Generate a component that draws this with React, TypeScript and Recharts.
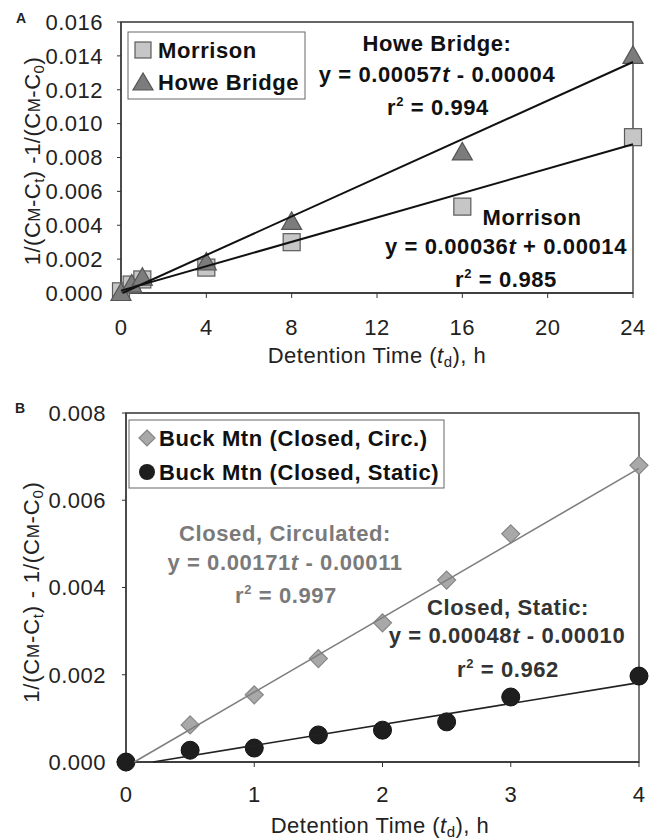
import React from 'react';
import { ComposedChart, Scatter, XAxis, YAxis, ReferenceArea, Customized } from 'recharts';

const FONT = 'Liberation Sans, Arial, Helvetica, sans-serif';

// ---------- Panel A data ----------
const timesA = [0, 0.5, 1, 4, 8, 16, 24];
const morrisonValues = [0.0001, 0.0005, 0.0008, 0.0015, 0.003, 0.0051, 0.0092];
const howeValues = [0.0, 0.0005, 0.0009, 0.0018, 0.0042, 0.0083, 0.014];
const morrisonFitTimes = [0, 24];
const morrisonFitValues = [0.00014, 0.00878];
const howeFitTimes = [0.07, 24];
const howeFitValues = [0.0, 0.01364];
const ticksXA = [0, 4, 8, 12, 16, 20, 24];
const ticksYA = [0, 0.002, 0.004, 0.006, 0.008, 0.01, 0.012, 0.014, 0.016];

// ---------- Panel B data ----------
const timesB = [0, 0.5, 1, 1.5, 2, 2.5, 3, 4];
const circValues = [0.0, 0.00085, 0.00154, 0.00237, 0.00319, 0.00417, 0.00523, 0.0068];
const staticValues = [0.0, 0.00027, 0.00032, 0.00062, 0.00073, 0.00092, 0.00149, 0.00197];
const circFitTimes = [0.064, 4];
const circFitValues = [0.0, 0.00673];
const staticFitTimes = [0.21, 4];
const staticFitValues = [0.0, 0.00182];
const ticksXB = [0, 1, 2, 3, 4];
const ticksYB = [0, 0.002, 0.004, 0.006, 0.008];

const zip = (t: number[], y: number[]) => t.map((v, i) => ({ t: v, y: y[i] }));

const morrisonData = zip(timesA, morrisonValues);
const howeData = zip(timesA, howeValues);
const morrisonFit = zip(morrisonFitTimes, morrisonFitValues);
const howeFit = zip(howeFitTimes, howeFitValues);
const circData = zip(timesB, circValues);
const staticData = zip(timesB, staticValues);
const circFit = zip(circFitTimes, circFitValues);
const staticFit = zip(staticFitTimes, staticFitValues);

// ---------- markers ----------
const Square = (p: any) => (
  <rect x={p.cx - 8.5} y={p.cy - 8.5} width={17} height={17} fill="#c6c6c6" stroke="#5a5a5a" strokeWidth={1.2} />
);
const Triangle = (p: any) => (
  <polygon
    points={`${p.cx},${p.cy - 10} ${p.cx - 10},${p.cy + 7.5} ${p.cx + 10},${p.cy + 7.5}`}
    fill="#7c7c7c"
    stroke="#555"
    strokeWidth={1.2}
  />
);
const Diamond = (p: any) => (
  <polygon
    points={`${p.cx},${p.cy - 9} ${p.cx + 9},${p.cy} ${p.cx},${p.cy + 9} ${p.cx - 9},${p.cy}`}
    fill="#a8a8a8"
    stroke="#858585"
    strokeWidth={1.2}
  />
);
const Dot = (p: any) => <circle cx={p.cx} cy={p.cy} r={9} fill="#1e1e1e" stroke="#111" strokeWidth={1} />;
const NoShape = () => <g />;

// ---------- ticks ----------
const YTick = (p: any) => (
  <text x={p.x} y={p.y} dy="0.355em" textAnchor="end" fontSize={22} fontFamily={FONT} fill="#222" letterSpacing={0.5}>
    {Number(p.payload.value).toFixed(3)}
  </text>
);
const XTick = (p: any) => (
  <text x={p.x} y={p.y} dy="0.71em" textAnchor="middle" fontSize={22} fontFamily={FONT} fill="#222" letterSpacing={0.5}>
    {String(p.payload.value)}
  </text>
);

// ---------- text helpers ----------
const T = ({ x, y, children, size = 22, weight = 'bold', fill = '#111', anchor = 'middle', ls = 0.6 }: any) => (
  <text x={x} y={y} fontSize={size} fontWeight={weight} fill={fill} textAnchor={anchor} fontFamily={FONT} letterSpacing={ls}>
    {children}
  </text>
);

const Eq = ({ a, b }: any) => (
  <>
    <tspan>{'y = ' + a}</tspan>
    <tspan fontStyle="italic">t</tspan>
    <tspan>{' ' + b}</tspan>
  </>
);

const R2 = ({ v }: any) => (
  <>
    <tspan>r</tspan>
    <tspan dy={-9} fontSize={13}>2</tspan>
    <tspan dy={9}>{' = ' + v}</tspan>
  </>
);

const XTitle = ({ x, y }: any) => (
  <text x={x} y={y} textAnchor="middle" fontSize={22} fontFamily={FONT} fill="#222" letterSpacing={0.5}>
    <tspan>Detention Time (</tspan>
    <tspan fontStyle="italic">t</tspan>
    <tspan fontSize={15} dy={4}>d</tspan>
    <tspan dy={-4}>), h</tspan>
  </text>
);

const YTitle = ({ cx, cy, size, sep, ls }: any) => {
  const small = Math.round(size * 0.75);
  const sub = Math.round(size * 0.68);
  return (
    <text
      transform={`translate(${cx},${cy}) rotate(-90)`}
      textAnchor="middle"
      dy="0.35em"
      fontSize={size}
      fontFamily={FONT}
      fill="#222"
      letterSpacing={ls}
    >
      <tspan>1/(C</tspan>
      <tspan fontSize={small}>M</tspan>
      <tspan>-C</tspan>
      <tspan fontSize={sub} dy={4}>t</tspan>
      <tspan dy={-4}>{')' + sep + '1/(C'}</tspan>
      <tspan fontSize={small}>M</tspan>
      <tspan>-C</tspan>
      <tspan fontSize={sub} dy={4}>0</tspan>
      <tspan dy={-4}>)</tspan>
    </text>
  );
};

// ---------- overlays (chart-local coordinates) ----------
const OverlayA = () => (
  <g>
    <text x={21} y={23} textAnchor="middle" fontSize={14} fontWeight="bold" fontFamily={FONT} fill="#222">A</text>
    <YTitle cx={32} cy={161} size={22} sep=" -" ls={0.5} />
    <XTitle x={377} y={363} />
    {/* legend */}
    <rect x={128} y={32} width={177} height={67} fill="#fff" stroke="#666" strokeWidth={1} />
    <rect x={135} y={42} width={16} height={16} fill="#c6c6c6" stroke="#5a5a5a" strokeWidth={1.2} />
    <polygon points="143,73 133,90 153,90" fill="#7c7c7c" stroke="#555" strokeWidth={1.2} />
    <T x={158} y={58} anchor="start">Morrison</T>
    <T x={158} y={90} anchor="start">Howe Bridge</T>
    {/* annotations */}
    <T x={437} y={51}>Howe Bridge:</T>
    <T x={437} y={82}><Eq a="0.00057" b="- 0.00004" /></T>
    <T x={438} y={115}><R2 v="0.994" /></T>
    <T x={532} y={225}>Morrison</T>
    <T x={506} y={254}><Eq a="0.00036" b="+ 0.00014" /></T>
    <T x={506} y={287}><R2 v="0.985" /></T>
  </g>
);

const OFF_B = 380;
const OverlayB = () => (
  <g>
    <text x={20} y={413 - OFF_B} textAnchor="middle" fontSize={14} fontWeight="bold" fontFamily={FONT} fill="#222">B</text>
    <YTitle cx={31} cy={592 - OFF_B} size={22} sep=" - " ls={0.8} />
    <XTitle x={380} y={833 - OFF_B} />
    {/* legend */}
    <rect x={129} y={420 - OFF_B} width={315} height={68} fill="#fff" stroke="#666" strokeWidth={1} />
    <polygon
      points={`147,${430 - OFF_B} 155,${438 - OFF_B} 147,${446 - OFF_B} 139,${438 - OFF_B}`}
      fill="#a8a8a8"
      stroke="#858585"
      strokeWidth={1.2}
    />
    <circle cx={147} cy={472 - OFF_B} r={8} fill="#1e1e1e" />
    <T x={159} y={446 - OFF_B} anchor="start">Buck Mtn (Closed, Circ.)</T>
    <T x={159} y={480 - OFF_B} anchor="start">Buck Mtn (Closed, Static)</T>
    {/* annotations */}
    <T x={285} y={541 - OFF_B} fill="#7a7a7a">Closed, Circulated:</T>
    <T x={285} y={570 - OFF_B} fill="#7a7a7a"><Eq a="0.00171" b="- 0.00011" /></T>
    <T x={286} y={603 - OFF_B} fill="#7a7a7a"><R2 v="0.997" /></T>
    <T x={508} y={615 - OFF_B} fill="#333">Closed, Static:</T>
    <T x={507} y={643 - OFF_B} fill="#333"><Eq a="0.00048" b="- 0.00010" /></T>
    <T x={508} y={677 - OFF_B} fill="#333"><R2 v="0.962" /></T>
  </g>
);

const axisLine = { stroke: '#333', strokeWidth: 1.3 };
const tickLine = { stroke: '#333', strokeWidth: 1 };

export default function App() {
  return (
    <div style={{ position: 'absolute', left: 0, top: 0, width: 656, height: 839, background: '#fff' }}>
      <div style={{ position: 'absolute', left: 0, top: 0 }}>
        <ComposedChart width={656} height={380} margin={{ top: 22, right: 23, bottom: 57, left: 61 }}>
          <XAxis
            type="number"
            dataKey="t"
            domain={[0, 24]}
            ticks={ticksXA}
            height={30}
            tickSize={5}
            tickMargin={21}
            tick={XTick}
            axisLine={axisLine}
            tickLine={tickLine}
          />
          <YAxis
            type="number"
            dataKey="y"
            domain={[0, 0.016]}
            ticks={ticksYA}
            width={60}
            tickSize={4}
            tickMargin={14}
            tick={YTick}
            axisLine={axisLine}
            tickLine={tickLine}
          />
          <ReferenceArea x1={0} x2={24} y1={0} y2={0.016} fill="none" fillOpacity={0} stroke="#333" strokeWidth={1.3} />
          <Scatter name="Morrison" data={morrisonData} shape={Square} isAnimationActive={false} />
          <Scatter name="Howe Bridge" data={howeData} shape={Triangle} isAnimationActive={false} />
          <Scatter
            name="Morrison fit"
            data={morrisonFit}
            shape={NoShape}
            line={{ stroke: '#111', strokeWidth: 2 }}
            isAnimationActive={false}
          />
          <Scatter
            name="Howe fit"
            data={howeFit}
            shape={NoShape}
            line={{ stroke: '#111', strokeWidth: 2 }}
            isAnimationActive={false}
          />
          <Customized component={OverlayA} />
        </ComposedChart>
      </div>
      <div style={{ position: 'absolute', left: 0, top: OFF_B }}>
        <ComposedChart width={656} height={459} margin={{ top: 33, right: 17, bottom: 47, left: 66 }}>
          <XAxis
            type="number"
            dataKey="t"
            domain={[0, 4]}
            ticks={ticksXB}
            height={30}
            tickSize={5}
            tickMargin={19}
            tick={XTick}
            axisLine={axisLine}
            tickLine={tickLine}
          />
          <YAxis
            type="number"
            dataKey="y"
            domain={[0, 0.008]}
            ticks={ticksYB}
            width={60}
            tickSize={4}
            tickMargin={16}
            tick={YTick}
            axisLine={axisLine}
            tickLine={tickLine}
          />
          <ReferenceArea x1={0} x2={4} y1={0} y2={0.008} fill="none" fillOpacity={0} stroke="#333" strokeWidth={1.3} />
          <Scatter name="Buck Mtn (Closed, Circ.)" data={circData} shape={Diamond} isAnimationActive={false} />
          <Scatter name="Buck Mtn (Closed, Static)" data={staticData} shape={Dot} isAnimationActive={false} />
          <Scatter
            name="Circ fit"
            data={circFit}
            shape={NoShape}
            line={{ stroke: '#7f7f7f', strokeWidth: 1.6 }}
            isAnimationActive={false}
          />
          <Scatter
            name="Static fit"
            data={staticFit}
            shape={NoShape}
            line={{ stroke: '#222', strokeWidth: 1.6 }}
            isAnimationActive={false}
          />
          <Customized component={OverlayB} />
        </ComposedChart>
      </div>
    </div>
  );
}
